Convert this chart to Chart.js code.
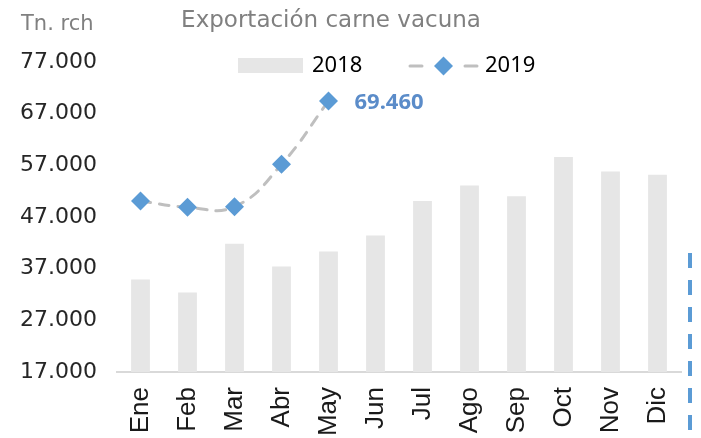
<!DOCTYPE html>
<html>
<head>
<meta charset="utf-8">
<script src="https://cdn.jsdelivr.net/npm/chart.js@4/dist/chart.umd.min.js"></script>
<style>
  body { margin: 0; background: #fff; }
  #wrap { width: 701px; height: 438px; position: relative; }
</style>
</head>
<body>
<div id="wrap"><canvas id="chart"></canvas></div>
<script>
const months = ['Ene', 'Feb', 'Mar', 'Abr', 'May', 'Jun', 'Jul', 'Ago', 'Sep', 'Oct', 'Nov', 'Dic']
const exports2018 = [34900, 32400, 41800, 37400, 40300, 43400, 50100, 53100, 51000, 58600, 55800, 55200]
const exports2019 = [50100, 48900, 49000, 57200, 69460]
const yTicks = [17000, 27000, 37000, 47000, 57000, 67000, 77000]

const chartTitle = 'Exportación carne vacuna'
const unitLabel = 'Tn. rch'

const BAR_COLOR = '#e6e6e6'
const LINE_COLOR = '#bfbfbf'
const MARKER_COLOR = '#5b9bd5'

const fmt = v => v.toLocaleString('de-DE')

const decorPlugin = {
  id: 'decor',
  afterDatasetsDraw (chart) {
    const { ctx } = chart
    // value label on the last 2019 point
    const meta = chart.getDatasetMeta(0)
    const last = meta.data[meta.data.length - 1]
    ctx.save()
    ctx.font = 'bold 22px "Noto Sans"'
    ctx.fillStyle = '#5b8cc9'
    ctx.textBaseline = 'middle'
    ctx.textAlign = 'left'
    ctx.fillText(fmt(exports2019[exports2019.length - 1]), last.x + 26, last.y + 2)
    ctx.restore()
  },
  afterDraw (chart) {
    const { ctx, chartArea } = chart
    ctx.save()

    // title and unit
    ctx.fillStyle = '#808080'
    ctx.textBaseline = 'middle'
    ctx.font = '23px "DejaVu Sans"'
    ctx.textAlign = 'center'
    ctx.fillText(chartTitle, 331, 21)
    ctx.font = '21px "DejaVu Sans"'
    ctx.textAlign = 'left'
    ctx.fillText(unitLabel, 21, 25)

    // legend
    const ly = 66
    ctx.fillStyle = BAR_COLOR
    ctx.fillRect(238, ly - 8, 65, 15)
    ctx.fillStyle = '#000'
    ctx.font = '22px "Noto Sans"'
    ctx.fillText('2018', 312, ly)

    ctx.strokeStyle = LINE_COLOR
    ctx.lineWidth = 3
    ctx.lineCap = 'round'
    ctx.beginPath()
    ctx.moveTo(410, ly)
    ctx.lineTo(422, ly)
    ctx.moveTo(465, ly)
    ctx.lineTo(477, ly)
    ctx.stroke()
    ctx.fillStyle = MARKER_COLOR
    ctx.beginPath()
    ctx.moveTo(443.5 - 9.5, ly)
    ctx.lineTo(443.5, ly - 9.5)
    ctx.lineTo(443.5 + 9.5, ly)
    ctx.lineTo(443.5, ly + 9.5)
    ctx.closePath()
    ctx.fill()
    ctx.fillStyle = '#000'
    ctx.fillText('2019', 485, ly)

    // blue dashed edge on the right
    ctx.strokeStyle = MARKER_COLOR
    ctx.lineWidth = 4
    ctx.lineCap = 'butt'
    ctx.setLineDash([15, 12])
    ctx.beginPath()
    ctx.moveTo(chartArea.right + 9, chartArea.bottom - 119)
    ctx.lineTo(chartArea.right + 9, chart.height)
    ctx.stroke()
    ctx.restore()
  }
}

new Chart(document.getElementById('chart'), {
  type: 'bar',
  data: {
    labels: months,
    datasets: [
      {
        type: 'line',
        label: '2019',
        data: exports2019,
        order: 0,
        borderColor: LINE_COLOR,
        borderWidth: 3,
        borderDash: [10, 9],
        borderCapStyle: 'round',
        tension: 0.45,
        pointStyle: 'rectRot',
        pointRadius: 9.5,
        pointBorderWidth: 0,
        pointBackgroundColor: MARKER_COLOR,
        pointBorderColor: MARKER_COLOR
      },
      {
        label: '2018',
        data: exports2018,
        order: 1,
        backgroundColor: BAR_COLOR,
        barPercentage: 0.4,
        categoryPercentage: 1
      }
    ]
  },
  options: {
    responsive: true,
    maintainAspectRatio: false,
    animation: false,
    layout: { padding: { top: 62, right: 20, left: 8, bottom: 0 } },
    plugins: {
      legend: { display: false },
      title: { display: false },
      tooltip: { enabled: false }
    },
    scales: {
      x: {
        grid: { display: false, drawTicks: false },
        border: { color: '#d9d9d9', width: 2 },
        ticks: {
          color: '#1a1a1a',
          font: { family: 'Liberation Sans', size: 26 },
          minRotation: 90,
          maxRotation: 90,
          autoSkip: false,
          padding: 15
        },
        afterFit (scale) {
          scale.height = 66
          scale.paddingRight = 0
        }
      },
      y: {
        min: yTicks[0],
        max: yTicks[yTicks.length - 1],
        grid: { display: false, drawTicks: false },
        border: { display: false },
        afterBuildTicks (scale) { scale.ticks = yTicks.map(v => ({ value: v })) },
        ticks: {
          color: '#262626',
          font: { family: 'DejaVu Sans', size: 22 },
          padding: 20,
          callback: v => fmt(v)
        },
        afterFit (scale) { scale.width = 109 }
      }
    }
  },
  plugins: [decorPlugin]
})
</script>
</body>
</html>
